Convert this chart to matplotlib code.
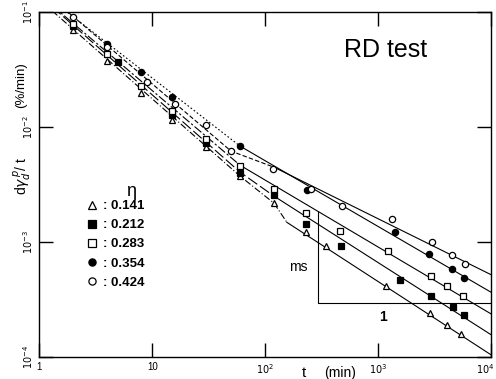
import matplotlib.pyplot as plt
from matplotlib.transforms import ScaledTranslation

plt.rcParams['font.family'] = ['Liberation Sans', 'DejaVu Sans']

# eta values of the five series
eta = ['0.141', '0.212', '0.283', '0.354', '0.424']

t_141 = [2, 4, 8, 15, 30, 60, 120, 230, 350, 1180, 2900, 4100, 5400]
r_141 = [0.0693, 0.0373, 0.0195, 0.0114, 0.0067, 0.00373, 0.00216, 0.00122,
         0.00092, 0.00041, 0.00024, 0.00019, 0.000157]

t_212 = [2, 5, 15, 30, 60, 120, 230, 470, 1570, 2960, 4600, 5800]
r_212 = [0.0751, 0.0367, 0.0126, 0.0073, 0.0040, 0.00255, 0.00143, 0.00092,
         0.00047, 0.00034, 0.00027, 0.00023]

t_283 = [2, 4, 8, 15, 30, 60, 120, 230, 460, 1240, 2940, 4130, 5700]
r_283 = [0.0782, 0.0433, 0.0226, 0.0136, 0.0079, 0.0046, 0.00287, 0.00179,
         0.00124, 0.00084, 0.00051, 0.00041, 0.00034]

t_354 = [4, 8, 15, 60, 235, 1420, 2860, 4500, 5800]
r_354 = [0.052, 0.0299, 0.0183, 0.0068, 0.00282, 0.00122, 0.00079, 0.00058,
         0.00049]

t_424 = [2, 4, 9, 16, 30, 50, 118, 255, 478, 1340, 3000, 4500, 5900]
r_424 = [0.0905, 0.0493, 0.0246, 0.0159, 0.0104, 0.00615, 0.00426, 0.00291,
         0.00206, 0.00157, 0.00099, 0.00077, 0.00064]

# hand drawn curves: dashed early part, straight solid part afterwards
dash_t_141 = [1.3, 60, 120, 156]
dash_r_141 = [0.1016, 0.00373, 0.00217, 0.00148]
line_t_141 = [156, 1e4]
line_r_141 = [0.00148, 0.000105]

dash_t_212 = [1.3, 60, 120]
dash_r_212 = [0.110, 0.00404, 0.0025]
line_t_212 = [120, 1e4]
line_r_212 = [0.0025, 0.000157]

dash_t_283 = [1.3, 60]
dash_r_283 = [0.113, 0.00464]
line_t_283 = [60, 1e4]
line_r_283 = [0.00464, 0.000238]

dash_t_354 = [1.3, 60]
dash_r_354 = [0.125, 0.0068]
line_t_354 = [60, 1e4]
line_r_354 = [0.0068, 0.000367]

dash_t_424 = [1.3, 2, 50, 120]
dash_r_424 = [0.130, 0.0905, 0.00615, 0.00446]
line_t_424 = [120, 1e4]
line_r_424 = [0.00446, 0.000521]

# slope triangle
ms_t = [294, 294, 1e4]
ms_r = [0.001824, 0.000297, 0.000297]

fig = plt.figure(figsize=(4.96, 3.79), dpi=100)
ax = fig.add_axes([0.0796, 0.058, 0.9097, 0.911])
ax.set_xscale('log')
ax.set_yscale('log')

lw = 0.8
ax.plot(dash_t_141, dash_r_141, color='k', lw=lw, ls=(0, (6, 2, 1, 2)))
ax.plot(dash_t_212, dash_r_212, color='k', lw=lw, ls=(0, (10, 3)))
ax.plot(dash_t_283, dash_r_283, color='k', lw=lw, ls=(0, (8, 2, 2, 2)))
ax.plot(dash_t_354, dash_r_354, color='k', lw=lw, ls=(0, (1.5, 2)))
ax.plot(dash_t_424, dash_r_424, color='k', lw=lw, ls=(0, (4, 2)))

for lt, lr in [(line_t_141, line_r_141), (line_t_212, line_r_212),
               (line_t_283, line_r_283), (line_t_354, line_r_354),
               (line_t_424, line_r_424)]:
    ax.plot(lt, lr, color='k', lw=lw)

ax.plot(ms_t, ms_r, color='k', lw=0.8)

mk = dict(ls='none', ms=4.5, mew=0.9, mec='k')
h1, = ax.plot(t_141, r_141, marker='^', mfc='white', **mk)
h2, = ax.plot(t_212, r_212, marker='s', mfc='k', **mk)
h3, = ax.plot(t_283, r_283, marker='s', mfc='white', **mk)
h4, = ax.plot(t_354, r_354, marker='o', mfc='k', **mk)
h5, = ax.plot(t_424, r_424, marker='o', mfc='white', **mk)

ax.set_xlim(1, 1e4)
ax.set_ylim(1e-4, 1e-1)
ax.minorticks_off()
ax.set_xticks([1, 10, 100, 1000, 1e4],
              ['1', '10', '$10^2$', '$10^3$', '$10^4$'])
ax.set_yticks([1e-4, 1e-3, 1e-2, 1e-1],
              ['$10^{-4}$', '$10^{-3}$', '$10^{-2}$', '$10^{-1}$'])
ax.tick_params(direction='in', length=10, width=1, top=True, right=True,
               labelsize=7)
ax.tick_params(axis='y', labelrotation=90)
for lab in ax.get_yticklabels():
    lab.set_va('center')
last = ax.get_xticklabels()[-1]
last.set_transform(last.get_transform() +
                   ScaledTranslation(-4 / 72, 0, fig.dpi_scale_trans))
for s in ax.spines.values():
    s.set_linewidth(1)

leg = ax.legend([h1, h2, h3, h4, h5], [': ' + e for e in eta],
                loc='upper left', bbox_to_anchor=(0.09, 0.47),
                frameon=False, handlelength=1.0, handletextpad=0.3,
                labelspacing=0.52, borderaxespad=0, markerscale=1.15,
                prop={'size': 9.5, 'weight': 'bold'})
ax.text(0.203, 0.478, 'η', transform=ax.transAxes, fontsize=13,
        ha='center', va='center')

ax.text(0.768, 0.889, 'RD test', transform=ax.transAxes, fontsize=18,
        ha='center', va='center')
ax.text(0.573, 0.26, 'ms', transform=ax.transAxes, fontsize=10,
        ha='center', va='center')
ax.text(0.761, 0.116, '1', transform=ax.transAxes, fontsize=10,
        ha='center', va='center', weight='bold')

fig.text(0.045, 1 - 176 / 379, r'd$\gamma_d^{\,p}$/ t', rotation=90,
         ha='center', va='center', fontsize=10)
fig.text(0.042, 1 - 85 / 379, '(%/min)', rotation=90,
         ha='center', va='center', fontsize=9.5)
fig.text(304 / 496, 1 - 373 / 379, 't', ha='center', va='center',
         fontsize=11)
fig.text(340 / 496, 1 - 373 / 379, '(min)', ha='center', va='center',
         fontsize=10)

fig.savefig('out.png', dpi=100)
